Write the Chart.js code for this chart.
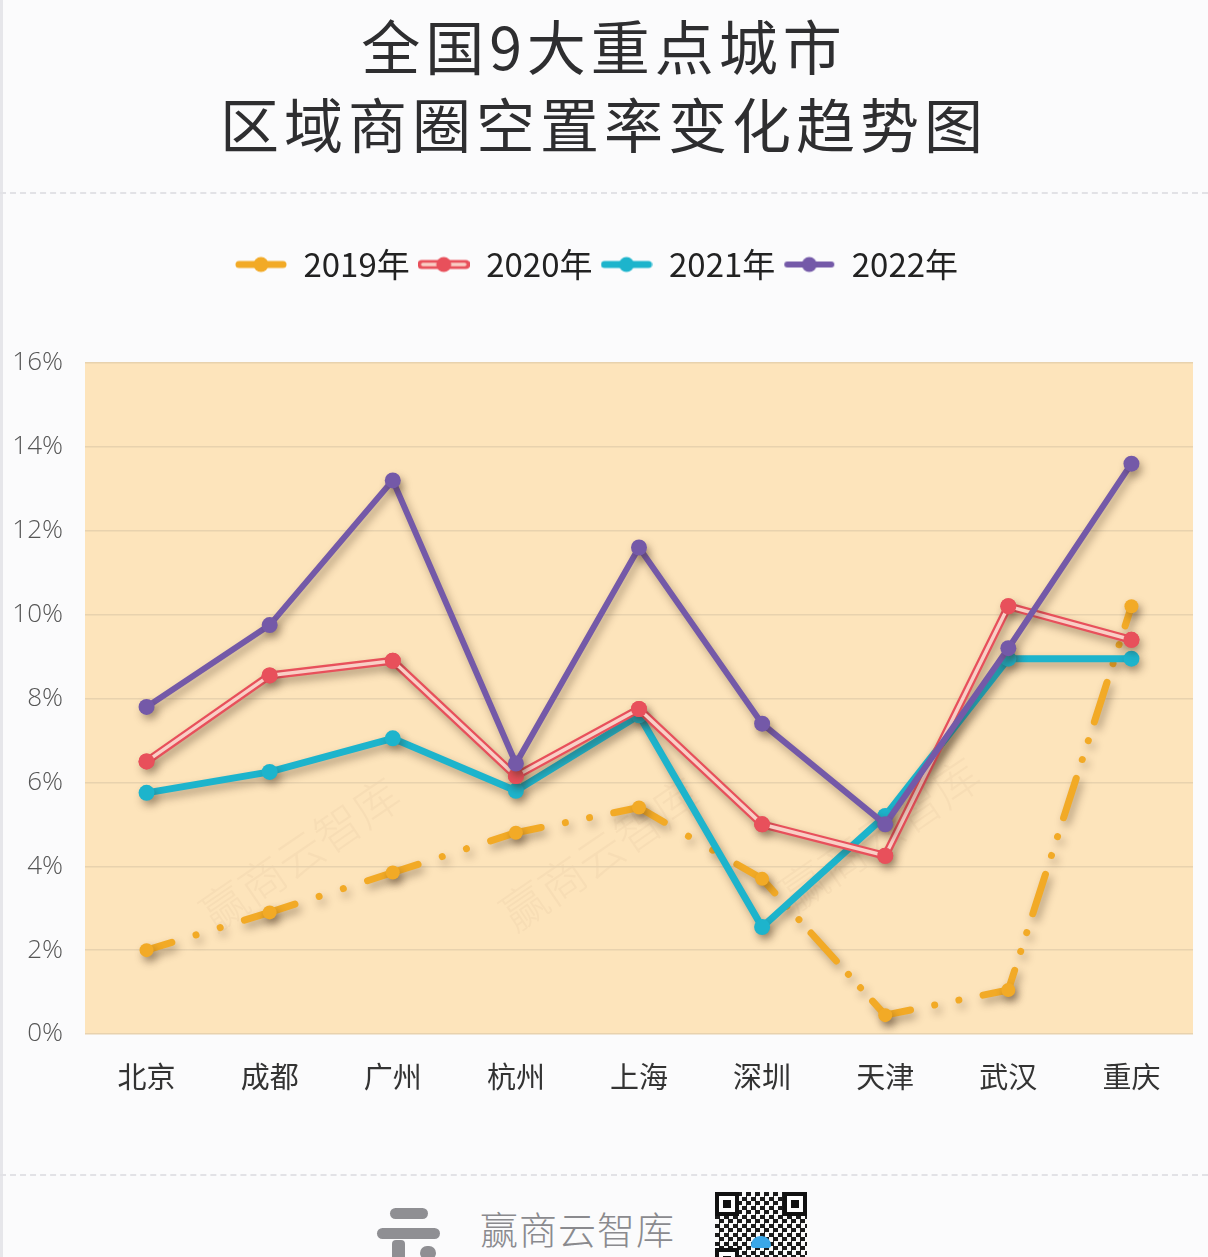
<!DOCTYPE html>
<html>
<head>
<meta charset="utf-8">
<script src="https://cdn.jsdelivr.net/npm/chart.js@4.4.1/dist/chart.umd.min.js"></script>
<style>
  html, body { margin: 0; padding: 0; }
  body { width: 1208px; height: 1257px; background: #fbfbfc; position: relative; overflow: hidden; font-family: "Noto Sans CJK SC", "Noto Sans", sans-serif; }
  #leftEdge { position: absolute; left: 0; top: 0; width: 3px; height: 1257px; background: #e6e6ea; }
  #title { position: absolute; left: 0; top: 6px; width: 1208px; text-align: center; color: #2e2e30; font-size: 59px; font-weight: 400; line-height: 78px; letter-spacing: 5px; }
  #sep1 { position: absolute; left: 0; top: 192px; width: 1208px; border-top: 2px dashed #e2e2e6; }
  #sep2 { position: absolute; left: 0; top: 1174px; width: 1208px; border-top: 2px dashed #e2e2e6; }
  #wrap { position: absolute; left: 0; top: 194px; width: 1208px; height: 980px; }
  #footText { position: absolute; left: 480px; top: 1200px; font-size: 38px; color: #8a8a8e; font-weight: 300; letter-spacing: 1px; }
  .bar { position: absolute; background: #8f8f93; border-radius: 6px; }
  #qr { position: absolute; left: 715px; top: 1192px; width: 92px; height: 70px; background: repeating-conic-gradient(#1b1b1b 0 25%, #fafafa 0 50%) 0 0 / 9px 9px; }
  .finder { position: absolute; width: 16px; height: 16px; border: 4px solid #111; background: #fff; box-shadow: inset 0 0 0 3px #fff; }
  .finder::after { content: ""; position: absolute; left: 4px; top: 4px; width: 8px; height: 8px; background: #111; }
  #qrDot { position: absolute; left: 36px; top: 44px; width: 20px; height: 12px; background: #3aa7e8; border-radius: 10px 10px 3px 3px; }
</style>
</head>
<body>
<div id="leftEdge"></div>
<div id="title">全国9大重点城市<br>区域商圈空置率变化趋势图</div>
<div id="sep1"></div>
<div id="wrap"><canvas id="c" width="1208" height="980"></canvas></div>
<div id="sep2"></div>
<div class="bar" style="left:390px;top:1208px;width:38px;height:11px;"></div>
<div class="bar" style="left:377px;top:1228px;width:63px;height:11px;"></div>
<div class="bar" style="left:392px;top:1240px;width:13px;height:20px;border-radius:4px;"></div>
<div class="bar" style="left:420px;top:1246px;width:16px;height:14px;border-radius:8px;"></div>
<div id="footText">赢商云智库</div>
<div id="qr">
  <div class="finder" style="left:0;top:0;"></div>
  <div class="finder" style="right:0;top:0;"></div>
  <div class="finder" style="left:0;bottom:-10px;"></div>
  <div id="qrDot"></div>
</div>
<script>
// ---- data ----
const cities = ['北京', '成都', '广州', '杭州', '上海', '深圳', '天津', '武汉', '重庆'];
const seriesNames = ['2019年', '2020年', '2021年', '2022年'];
const v2019 = [2.0, 2.9, 3.85, 4.8, 5.4, 3.7, 0.45, 1.05, 10.2];
const v2020 = [6.5, 8.55, 8.9, 6.15, 7.75, 5.0, 4.25, 10.2, 9.4];
const v2021 = [5.75, 6.25, 7.05, 5.8, 7.6, 2.55, 5.2, 8.95, 8.95];
const v2022 = [7.8, 9.75, 13.2, 6.45, 11.6, 7.4, 5.0, 9.2, 13.6];
const yTicks = [0, 2, 4, 6, 8, 10, 12, 14, 16];

// ---- styles ----
const C2019 = '#f2aa26', C2020 = '#e8505b', C2020in = '#f9cfc6', C2021 = '#1db4cc', C2022 = '#7459a8';

function legendIcon(color, inner, w) {
  const cv = document.createElement('canvas');
  cv.width = 52; cv.height = 22;
  const g = cv.getContext('2d');
  g.lineCap = 'round';
  g.strokeStyle = color; g.lineWidth = w;
  g.beginPath(); g.moveTo(4, 11); g.lineTo(48, 11); g.stroke();
  if (inner) { g.strokeStyle = inner; g.lineWidth = 3.5; g.beginPath(); g.moveTo(5, 11); g.lineTo(47, 11); g.stroke(); }
  g.fillStyle = color; g.beginPath(); g.arc(26, 11, 7.5, 0, Math.PI * 2); g.fill();
  return cv;
}
const icons = [legendIcon(C2019, null, 7), legendIcon(C2020, C2020in, 9), legendIcon(C2021, null, 7), legendIcon(C2022, null, 6)];

function segGeom(ctx) {
  const L = Math.hypot(ctx.p1.x - ctx.p0.x, ctx.p1.y - ctx.p0.y);
  const P = 112;
  const n = Math.max(1, Math.round(L / P));
  return L / (n * P);
}

const shadowPlugin = {
  id: 'shadowAndDouble',
  beforeDraw(chart) {
    const a = chart.chartArea, ctx = chart.ctx;
    ctx.save();
    ctx.fillStyle = '#fde4bb';
    ctx.fillRect(a.left, a.top, a.right - a.left, a.bottom - a.top);
    ctx.fillStyle = 'rgba(190,160,120,0.09)';
    ctx.font = '300 46px "Noto Sans CJK SC"';
    [[300, 660], [600, 660], [880, 640]].forEach(p => {
      ctx.save(); ctx.translate(p[0], p[1]); ctx.rotate(-0.6);
      ctx.textAlign = 'center'; ctx.fillText('赢商云智库', 0, 0); ctx.restore();
    });
    ctx.restore();
  },
  beforeDatasetDraw(chart, args) {
    const ctx = chart.ctx;
    ctx.save();
    ctx.shadowColor = 'rgba(60,40,20,0.38)';
    ctx.shadowBlur = 8;
    ctx.shadowOffsetX = 3;
    ctx.shadowOffsetY = 5;
  },
  afterDatasetDraw(chart, args) {
    const ctx = chart.ctx;
    ctx.restore();
    const ds = chart.data.datasets[args.index];
    if (ds.innerColor) {
      const pts = args.meta.data;
      ctx.save();
      ctx.strokeStyle = ds.innerColor;
      ctx.lineWidth = 3.5;
      ctx.beginPath();
      pts.forEach((p, i) => { if (i === 0) ctx.moveTo(p.x, p.y); else ctx.lineTo(p.x, p.y); });
      ctx.stroke();
      ctx.restore();
      pts.forEach(p => p.draw(ctx, chart.chartArea));
    }
  },
  beforeLayout(chart) {
    const lg = chart.legend;
    if (lg && !lg._fixed) {
      const f = lg.fit;
      lg.fit = function () { f.call(this); this.height = 123; };
      lg._fixed = true;
    }
  }
};

new Chart(document.getElementById('c'), {
  type: 'line',
  data: {
    labels: cities,
    datasets: [
      {
        label: seriesNames[0], data: v2019, borderColor: C2019, backgroundColor: C2019,
        borderWidth: 7, borderCapStyle: 'round', pointRadius: 7, pointHoverRadius: 7, pointBorderWidth: 0, order: 4,
        segment: {
          borderDash: ctx => { const s = segGeom(ctx); return [46 * s, 22 * s, 0.01, 22 * s, 0.01, 22 * s]; },
          borderDashOffset: ctx => 23 * segGeom(ctx) + ctx.p0DataIndex * 0.0001
        }
      },
      {
        label: seriesNames[1], data: v2020, borderColor: C2020, backgroundColor: C2020, innerColor: C2020in,
        borderWidth: 8, pointRadius: 8, pointHoverRadius: 8, pointBorderWidth: 0, order: 2
      },
      {
        label: seriesNames[2], data: v2021, borderColor: C2021, backgroundColor: C2021,
        borderWidth: 7, pointRadius: 8, pointHoverRadius: 8, pointBorderWidth: 0, order: 3
      },
      {
        label: seriesNames[3], data: v2022, borderColor: C2022, backgroundColor: C2022,
        borderWidth: 6, pointRadius: 8, pointHoverRadius: 8, pointBorderWidth: 0, order: 1
      }
    ]
  },
  options: {
    responsive: false,
    animation: false,
    layout: { padding: { top: 46, right: 15, bottom: 0, left: 0 } },
    plugins: {
      tooltip: { enabled: false },
      legend: {
        position: 'top',
        labels: {
          usePointStyle: true,
          pointStyleWidth: 52,
          padding: 8,
          color: '#222',
          font: { family: '"Noto Sans CJK SC", sans-serif', size: 33 },
          sort: (a, b) => a.datasetIndex - b.datasetIndex,
          generateLabels(chart) {
            const items = Chart.defaults.plugins.legend.labels.generateLabels(chart);
            items.forEach(it => { it.pointStyle = icons[it.datasetIndex]; });
            return items;
          }
        }
      }
    },
    scales: {
      x: {
        offset: true,
        grid: { display: false, drawTicks: false },
        border: { display: false },
        ticks: { color: '#333', padding: 26, font: { family: '"Noto Sans CJK SC", sans-serif', size: 29 } },
        afterFit(s) { s.height = 140; }
      },
      y: {
        min: 0, max: 16,
        afterBuildTicks(s) { s.ticks = yTicks.map(v => ({ value: v })); },
        grid: { color: '#e8d2ae', lineWidth: 1.5, drawTicks: false },
        border: { display: false },
        ticks: { color: '#555', padding: 22, font: { family: '"Open Sans", sans-serif', size: 26, weight: '300' }, callback: v => v + '%' },
        afterFit(s) { s.width = 85; }
      }
    }
  },
  plugins: [shadowPlugin]
});
</script>
</body>
</html>
